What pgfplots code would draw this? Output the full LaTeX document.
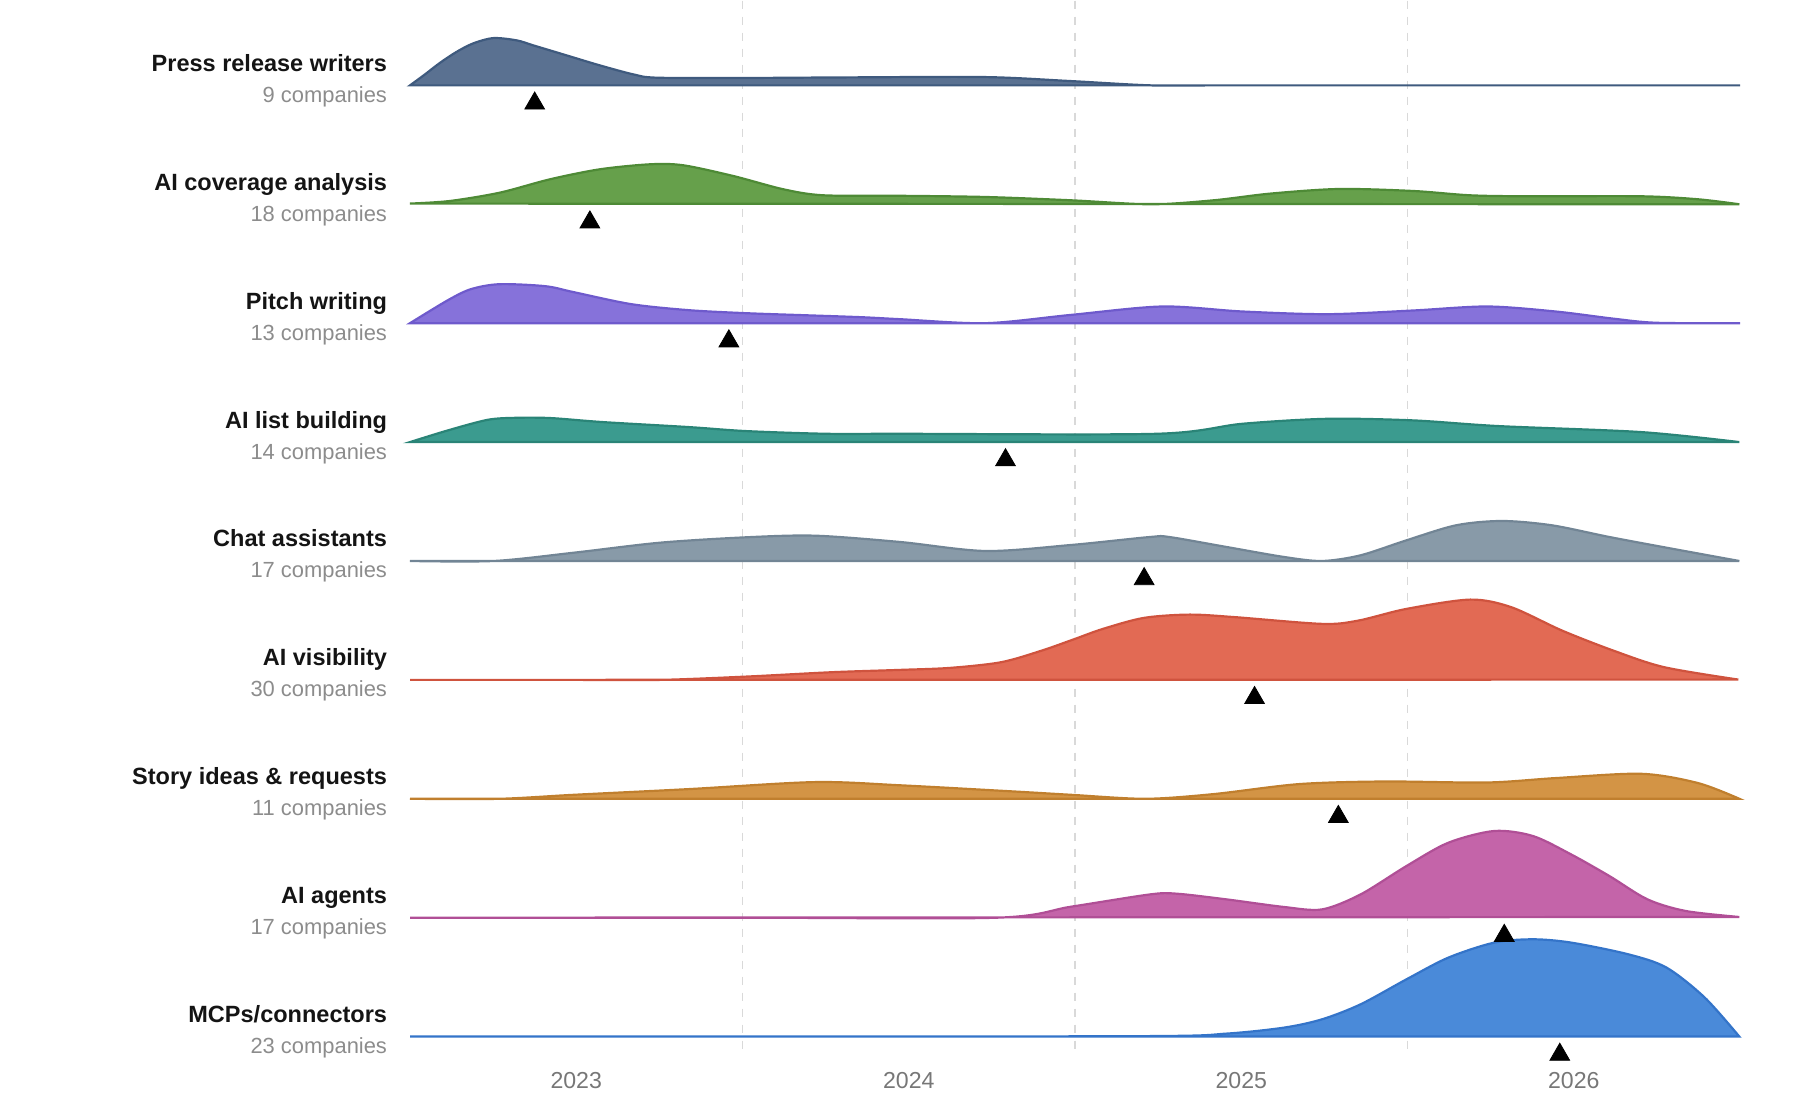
\documentclass[border=0pt]{standalone}
\usepackage{fontspec}
\setmainfont{Liberation Sans}
\usepackage{pgfplots}
\usepackage{pgfplotstable}
\pgfplotsset{compat=1.18}

\definecolor{fA}{HTML}{5A7191}\definecolor{dA}{HTML}{3F5A7E}
\definecolor{fB}{HTML}{66A04B}\definecolor{dB}{HTML}{4E8A36}
\definecolor{fC}{HTML}{8672DA}\definecolor{dC}{HTML}{6E5ACC}
\definecolor{fD}{HTML}{3B9B8F}\definecolor{dD}{HTML}{2A8477}
\definecolor{fE}{HTML}{889AA8}\definecolor{dE}{HTML}{728595}
\definecolor{fF}{HTML}{E26A54}\definecolor{dF}{HTML}{CF533E}
\definecolor{fG}{HTML}{D39445}\definecolor{dG}{HTML}{C07F2E}
\definecolor{fH}{HTML}{C464A9}\definecolor{dH}{HTML}{B04F96}
\definecolor{fI}{HTML}{4A8AD9}\definecolor{dI}{HTML}{3474C9}
\definecolor{titlec}{HTML}{141414}
\definecolor{subc}{HTML}{8C8C8C}
\definecolor{tickc}{HTML}{777777}
\definecolor{gridc}{HTML}{D9D9D9}

% Press release writers
\pgfplotstableread{
x h
2022.5 0
2022.545 11
2022.590 22.5
2022.640 33.5
2022.690 42
2022.751 47.3
2022.821 45
2022.871 40
2022.971 30
2023.071 20
2023.172 11
2023.242 7.7
2023.5 7.4
2023.823 8
2024.231 8.3
2024.488 4.3
2024.73 0
2024.95 0
2026.5 0
}\rowA
% AI coverage analysis
\pgfplotstableread{
x h
2022.5 0.7
2022.62 3.3
2022.771 11.7
2022.921 25
2023.071 35
2023.222 40
2023.322 39
2023.472 28.3
2023.623 15
2023.743 9
2023.974 8.5
2024.231 7.3
2024.488 4
2024.728 0
2024.917 4
2025.088 10.7
2025.294 15.3
2025.517 13.3
2025.688 9
2025.86 8
2026.203 8
2026.374 5
2026.498 0
}\rowB
% Pitch writing
\pgfplotstableread{
x h
2022.5 0
2022.614 23
2022.683 34
2022.769 39
2022.907 37
2022.993 31
2023.166 19
2023.339 13
2023.511 10
2023.684 8
2023.857 6
2023.974 4
2024.231 0
2024.488 8.3
2024.763 16.7
2025.003 11.7
2025.260 9
2025.517 12.7
2025.740 16.7
2025.945 11.7
2026.12 4.5
2026.25 0.4
2026.5 0
}\rowC
% AI list building
\pgfplotstableread{
x h
2022.5 0
2022.614 11.7
2022.734 22.3
2022.821 24.3
2022.924 24
2023.080 20
2023.339 15
2023.511 11
2023.753 8.3
2023.974 8.3
2024.745 8.3
2025.003 18.3
2025.260 23.3
2025.517 21.7
2025.774 16
2026.203 10
2026.498 0
}\rowD
% Chat assistants
\pgfplotstableread{
x h
2022.5 0
2022.752 0
2022.993 8.3
2023.252 18.3
2023.511 23.7
2023.718 25.3
2023.974 19
2024.231 10
2024.488 16
2024.726 24
2024.783 24
2024.956 14
2025.129 4
2025.243 0
2025.359 5.7
2025.497 20.7
2025.646 35.7
2025.784 40
2025.934 35.7
2026.107 24
2026.279 13.3
2026.498 0
}\rowE
% AI visibility
\pgfplotstableread{
x h
2022.5 0
2023.0 0
2023.252 0
2023.511 3.3
2023.770 7.7
2023.974 10
2024.124 12
2024.278 17.7
2024.40 29.3
2024.5 41
2024.584 51
2024.707 62
2024.845 65.3
2024.983 62.7
2025.244 56
2025.352 59.3
2025.497 71
2025.689 80.3
2025.812 72.7
2025.965 49.3
2026.119 29.3
2026.272 12.7
2026.495 0.3
}\rowF
% Story ideas & requests
\pgfplotstableread{
x h
2022.5 0
2022.769 0
2022.993 4
2023.339 9.7
2023.718 16.7
2023.974 13.5
2024.317 7.3
2024.488 4
2024.711 0
2024.917 4.7
2025.174 14.7
2025.431 17.3
2025.740 16.3
2025.945 20.7
2026.203 25
2026.374 15.7
2026.498 0
}\rowG
% AI agents
\pgfplotstableread{
x h
2022.5 0
2023.5 0
2024.265 0
2024.488 11
2024.726 23.3
2024.806 24
2024.956 18.3
2025.129 10.7
2025.243 8.3
2025.359 23.3
2025.497 51.7
2025.623 75
2025.761 86.7
2025.877 81.7
2025.992 63.3
2026.107 41.7
2026.222 18.3
2026.337 6.7
2026.498 0.7
}\rowH
% MCPs/connectors
\pgfplotstableread{
x h
2022.5 0
2023.5 0
2024.726 0.5
2024.956 3
2025.129 9
2025.243 17.3
2025.359 32.3
2025.497 57.3
2025.623 79
2025.761 94
2025.877 97.3
2025.992 94
2026.164 82.3
2026.279 69
2026.394 39
2026.498 0
}\rowI

% triangle markers (median position), one per row
\pgfplotstableread{
x y
2022.875 933.2
2023.041 814.3
2023.459 695.4
2024.291 576.5
2024.708 457.6
2025.040 338.7
2025.292 219.8
2025.791 100.9
2025.958 -18
}\medians

\newcommand{\ridge}[4]{%
  \addplot[smooth, tension=0.5, fill=#3, draw=#4, line width=1.1bp]
    table[x=x, y expr=\thisrow{h}+#2] {#1} -- cycle;}
\newcommand{\rowlabel}[3]{%
  \node[anchor=base east, inner sep=0pt, text=titlec, font=\fontsize{11.8}{13}\selectfont\bfseries]
    at (axis cs:2022.432,#1+14) {#2};
  \node[anchor=base east, inner sep=0pt, text=subc, font=\fontsize{11}{12}\selectfont]
    at (axis cs:2022.432,#1-17) {#3};}

\begin{document}
\begin{tikzpicture}
\begin{axis}[
  scale only axis, width=897bp, height=559bp,
  xmin=2021.26692, xmax=2026.66241, ymin=-82, ymax=1036,
  hide axis, clip=false,
]
\path (rel axis cs:0,0) rectangle (rel axis cs:1,1);
\foreach \gx in {2023.5,2024.5,2025.5}{
  \edef\temp{\noexpand\draw[gridc, line width=0.6bp, dash pattern=on 4bp off 4bp]
    (axis cs:\gx,1036) -- (axis cs:\gx,-14);}\temp
}
\ridge{\rowA}{951.2}{fA}{dA}
\ridge{\rowB}{832.3}{fB}{dB}
\ridge{\rowC}{713.4}{fC}{dC}
\ridge{\rowD}{594.5}{fD}{dD}
\ridge{\rowE}{475.6}{fE}{dE}
\ridge{\rowF}{356.7}{fF}{dF}
\ridge{\rowG}{237.8}{fG}{dG}
\ridge{\rowH}{118.9}{fH}{dH}
\ridge{\rowI}{0}{fI}{dI}
\addplot[only marks, mark=triangle*, mark size=5.7bp, black] table[x=x, y=y] {\medians};

\rowlabel{951.2}{Press release writers}{9 companies}
\rowlabel{832.3}{AI coverage analysis}{18 companies}
\rowlabel{713.4}{Pitch writing}{13 companies}
\rowlabel{594.5}{AI list building}{14 companies}
\rowlabel{475.6}{Chat assistants}{17 companies}
\rowlabel{356.7}{AI visibility}{30 companies}
\rowlabel{237.8}{Story ideas \& requests}{11 companies}
\rowlabel{118.9}{AI agents}{17 companies}
\rowlabel{0}{MCPs/connectors}{23 companies}

\foreach \yr in {2023,2024,2025,2026}{
  \edef\temp{\noexpand\node[anchor=base, text=tickc, font=\noexpand\fontsize{11.6}{13}\noexpand\selectfont]
    at (axis cs:\yr,-52) {\yr};}\temp
}
\end{axis}
\end{tikzpicture}
\end{document}
